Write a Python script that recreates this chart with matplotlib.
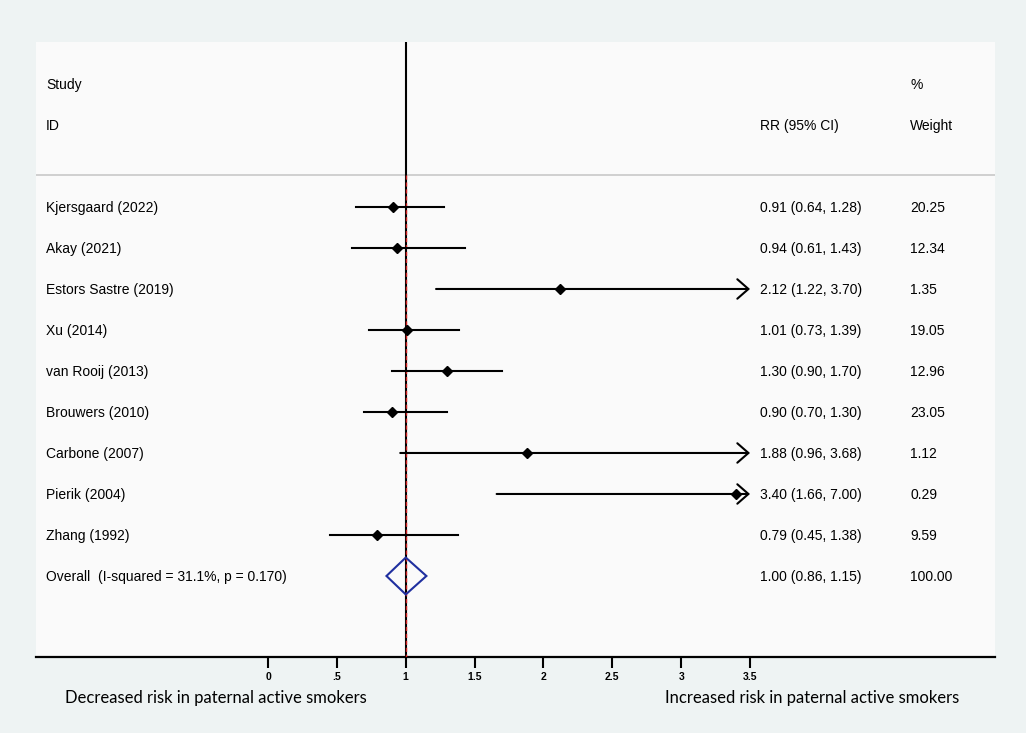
import numpy as np
import matplotlib
matplotlib.use("Agg")
from matplotlib import pyplot as plt

# data
studies = ["Kjersgaard (2022)", "Akay (2021)", "Estors Sastre (2019)", "Xu (2014)",
           "van Rooij (2013)", "Brouwers (2010)", "Carbone (2007)", "Pierik (2004)",
           "Zhang (1992)"]
rr = [0.91, 0.94, 2.12, 1.01, 1.30, 0.90, 1.88, 3.40, 0.79]
lo = [0.64, 0.61, 1.22, 0.73, 0.90, 0.70, 0.96, 1.66, 0.45]
hi = [1.28, 1.43, 3.70, 1.39, 1.70, 1.30, 3.68, 7.00, 1.38]
weights = [20.25, 12.34, 1.35, 19.05, 12.96, 23.05, 1.12, 0.29, 9.59]

overall_label = "Overall  (I-squared = 31.1%, p = 0.170)"
overall_rr, overall_lo, overall_hi = 1.00, 0.86, 1.15

xticks = [0, 0.5, 1, 1.5, 2, 2.5, 3, 3.5]
xticklabels = ["0", ".5", "1", "1.5", "2", "2.5", "3", "3.5"]
xmax_plot = 3.5

plt.rcParams['font.family'] = ['Liberation Sans', 'DejaVu Sans']

fig = plt.figure(figsize=(10.26, 7.33), dpi=100, facecolor="#eef3f3")
ax = fig.add_axes([36/1026, 76/733, 959/1026, 615/733])
ax.set_facecolor("#fafafa")
ax.set_xlim(-1.685, 5.279)
ax.set_ylim(10.976, -4.024)

for s in ["top", "left", "right"]:
    ax.spines[s].set_visible(False)
ax.spines["bottom"].set_linewidth(1.6)
ax.set_yticks([])
ax.set_xticks(xticks)
ax.set_xticklabels(xticklabels, fontsize=7.5, fontweight="bold")
ax.tick_params(axis="x", length=8, width=1.5, pad=3)

fs = 10
va = "center_baseline"
tx_study, tx_rr, tx_w = -1.612, 3.573, 4.662

# headers
ax.text(tx_study, -3, "Study", fontsize=fs, va=va)
ax.text(tx_study, -2, "ID", fontsize=fs, va=va)
ax.text(tx_rr, -2, "RR (95% CI)", fontsize=fs, va=va)
ax.text(tx_w, -3, "%", fontsize=fs, va=va)
ax.text(tx_w, -2, "Weight", fontsize=fs, va=va)
ax.axhline(-0.78, color="#c8c8c8", lw=1.2)

# null line and overall line
ax.axvline(1, color="black", lw=1.5, zorder=2)
ax.plot([overall_rr, overall_rr], [-0.78, 10.976], color="#d02020", lw=1,
        ls=(0, (3, 2)), zorder=3)

for i, name in enumerate(studies):
    ax.text(tx_study, i, name, fontsize=fs, va=va)
    ax.text(tx_rr, i, f"{rr[i]:.2f} ({lo[i]:.2f}, {hi[i]:.2f})", fontsize=fs, va=va)
    ax.text(tx_w, i, f"{weights[i]:.2f}", fontsize=fs, va=va)
    if hi[i] > xmax_plot:
        ax.annotate("", xy=(xmax_plot, i), xytext=(lo[i], i),
                    arrowprops=dict(arrowstyle="->,head_length=0.8,head_width=0.7",
                                    color="black", lw=1.5, shrinkA=0, shrinkB=0),
                    zorder=4)
    else:
        ax.plot([lo[i], hi[i]], [i, i], color="black", lw=1.5, zorder=4)
    ax.plot(rr[i], i, marker="D", color="black", markersize=5, zorder=5)

# overall diamond
k = len(studies)
ax.fill([overall_lo, overall_rr, overall_hi, overall_rr],
        [k, k - 0.45, k, k + 0.45], facecolor="none", edgecolor="#1f2f9f", lw=1.5,
        zorder=5)
ax.text(tx_study, k, overall_label, fontsize=fs, va=va)
ax.text(tx_rr, k, f"{overall_rr:.2f} ({overall_lo:.2f}, {overall_hi:.2f})",
        fontsize=fs, va=va)
ax.text(tx_w, k, "100.00", fontsize=fs, va=va)

fig.text(216/1026, 35/733, "Decreased risk in paternal active smokers",
         fontsize=12, family="Lato", ha="center", va="center")
fig.text(812/1026, 35/733, "Increased risk in paternal active smokers",
         fontsize=12, family="Lato", ha="center", va="center")

fig.savefig("out.png", dpi=100, facecolor=fig.get_facecolor())
